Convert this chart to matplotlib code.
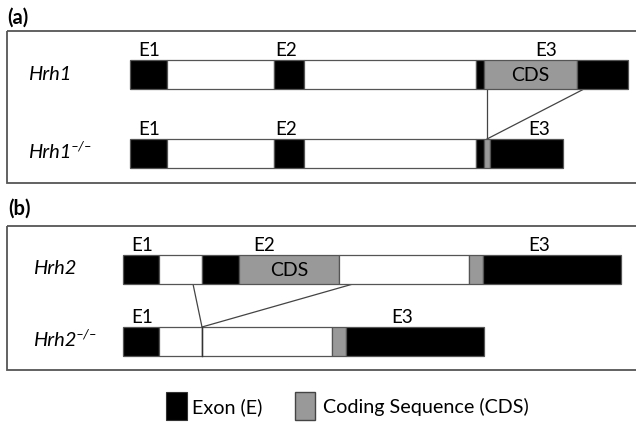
import matplotlib
matplotlib.use("Agg")
import matplotlib.pyplot as plt
from matplotlib.patches import Rectangle

plt.rcParams['font.family'] = ['Lato', 'DejaVu Sans']

# ---- data (segment edges along the gene, and segment types) ----
# types: E = exon (black), I = intron/UTR (white), C = coding sequence (gray)
hrh1_edges = [130, 167, 274, 304, 476, 484, 577, 628]
hrh1_types = ['E', 'I', 'E', 'I', 'E', 'C', 'E']
hrh1ko_edges = [130, 167, 274, 304, 476, 484, 490, 563]
hrh1ko_types = ['E', 'I', 'E', 'I', 'E', 'C', 'E']
hrh2_edges = [123, 159, 202, 239, 339, 469, 483, 621]
hrh2_types = ['E', 'I', 'E', 'C', 'I', 'C', 'E']
hrh2ko_edges = [123, 159, 202, 332, 346, 484]
hrh2ko_types = ['E', 'I', 'I', 'C', 'E']

gene_names = ['Hrh1', 'Hrh1', 'Hrh2', 'Hrh2']
gene_knockout = [False, True, False, True]
row_y = [74.5, 153.5, 269.5, 341.5]

exon_labels = [
    [('E1', 149), ('E2', 286), ('E3', 546)],
    [('E1', 149), ('E2', 286), ('E3', 539)],
    [('E1', 142), ('E2', 264), ('E3', 539)],
    [('E1', 142), ('E3', 402)],
]
cds_labels = [(530, 0), (289, 2)]  # (x, row index)

# connector lines: (x_top, x_bottom, upper row, lower row)
connectors = [(487, 487, 0, 1), (584, 487, 0, 1), (193, 202, 2, 3), (353, 202, 2, 3)]
legend_labels = ['Exon (E)', 'Coding Sequence (CDS)']

colors = {'E': 'black', 'I': 'white', 'C': '#999999'}

fig = plt.figure(figsize=(6.36, 4.24), dpi=100)
ax = fig.add_axes([0, 0, 1, 1])
ax.set_xlim(0, 636)
ax.set_ylim(424, 0)
ax.axis('off')
renderer = fig.canvas.get_renderer()

H = 29
rows = [(hrh1_edges, hrh1_types), (hrh1ko_edges, hrh1ko_types),
        (hrh2_edges, hrh2_types), (hrh2ko_edges, hrh2ko_types)]

# panel boxes
for (y0, y1) in [(31, 183), (226, 370)]:
    ax.add_patch(Rectangle((7, y0), 640, y1 - y0, fill=False, edgecolor='#555555', lw=1.3, zorder=1))

ax.text(7, 18, '(a)', fontsize=14.5, fontweight='bold', va='center', ha='left')
ax.text(8, 209, '(b)', fontsize=14.5, fontweight='bold', va='center', ha='left')

for i, (edges, types) in enumerate(rows):
    yc = row_y[i]
    lefts = edges[:-1]
    widths = [b - a for a, b in zip(edges[:-1], edges[1:])]
    ax.barh([yc] * len(lefts), widths, left=lefts, height=H,
            color=[colors[t] for t in types], edgecolor='#555555', linewidth=0.9, zorder=3)
    for lab, x in exon_labels[i]:
        ax.text(x, yc - H / 2 - 4, lab, fontsize=13.5, ha='center', va='baseline')
    xn = 28 if i < 2 else 33
    t = ax.text(xn, yc + 5, gene_names[i], fontsize=14.5, style='italic', ha='left', va='baseline')
    if gene_knockout[i]:
        bb = t.get_window_extent(renderer=renderer)
        x_end = ax.transData.inverted().transform((bb.x1, bb.y0))[0]
        ax.text(x_end - 1, yc - 3, '\u2013/\u2013', fontsize=10, style='italic',
                ha='left', va='baseline')

# vertical separator line in Hrh2 knockout
ax.plot([202, 202], [row_y[3] - H / 2, row_y[3] + H / 2], color='#333333', lw=1.0, zorder=4)

for x, r in cds_labels:
    ax.text(x, row_y[r] + 1, 'CDS', fontsize=14, ha='center', va='center', zorder=5)

for xt, xb, ru, rl in connectors:
    ax.plot([xt, xb], [row_y[ru] + H / 2, row_y[rl] - H / 2], color='#444444', lw=0.9, zorder=2)

# legend
ax.add_patch(Rectangle((166, 392), 21, 28, facecolor='black', edgecolor='#333333', lw=0.8))
ax.text(192, 407, legend_labels[0], fontsize=14.2, ha='left', va='center')
ax.add_patch(Rectangle((295, 392), 20, 28, facecolor='#999999', edgecolor='#444444', lw=1.0))
ax.text(323, 407, legend_labels[1], fontsize=14.2, ha='left', va='center')

fig.savefig('out.png', dpi=100)
